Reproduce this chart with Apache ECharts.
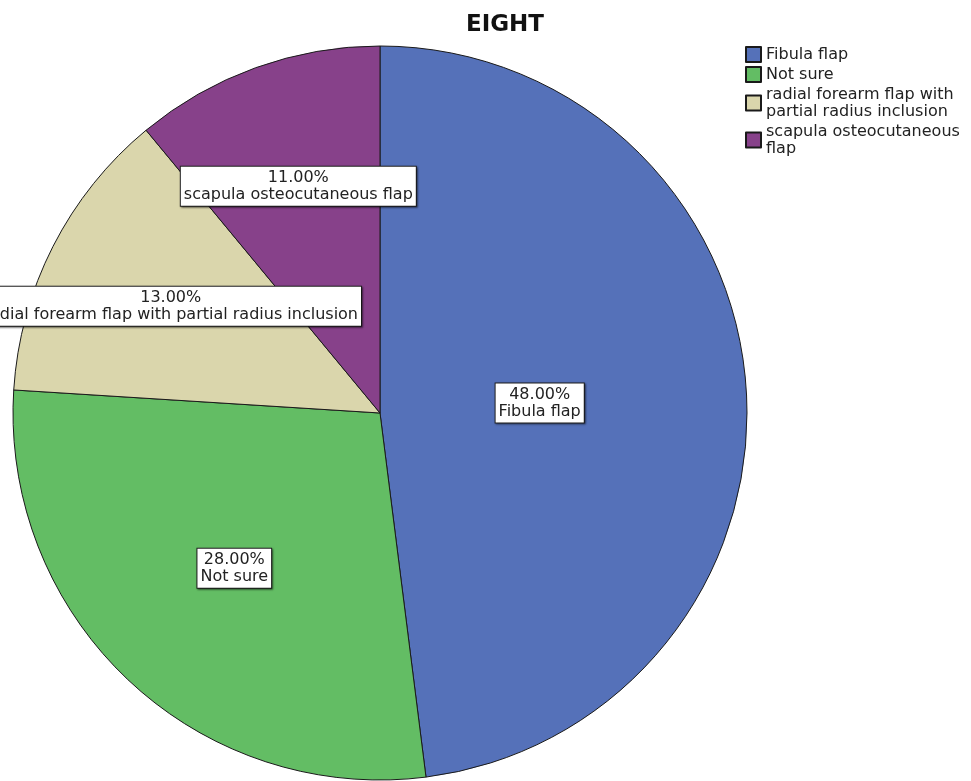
<!DOCTYPE html>
<html>
<head>
<meta charset="utf-8">
<style>
  html, body { margin: 0; padding: 0; background: #fff; }
  #chart { width: 971px; height: 781px; }
</style>
<script src="https://cdn.jsdelivr.net/npm/echarts@6/dist/echarts.min.js"></script>
</head>
<body>
<div id="chart"></div>
<script>
// Response categories and their shares (percent)
const categories = [
  'Fibula flap',
  'Not sure',
  'radial forearm flap with partial radius inclusion',
  'scapula osteocutaneous flap'
];
const percents = [48, 28, 13, 11];
// Legend text with manual line breaks
const legendLabels = [
  'Fibula flap',
  'Not sure',
  'radial forearm flap with\npartial radius inclusion',
  'scapula osteocutaneous\nflap'
];

// Styling
const colors = ['#5571B9', '#63BD64', '#DAD6AC', '#87418A'];
const labelRadiusFrac = [0.436, 0.58, 0.64, 0.657];
const CX = 380, CY = 413, R = 367;
const FONT = 'DejaVu Sans';

const total = percents.reduce((a, b) => a + b, 0);
// mid-angle of each slice, clockwise from 12 o'clock
const midAngles = [];
let acc = 0;
percents.forEach(v => {
  midAngles.push(((acc + v / 2) / total) * 2 * Math.PI);
  acc += v;
});

const chart = echarts.init(document.getElementById('chart'), null, { renderer: 'canvas' });

chart.setOption({
  animation: false,
  backgroundColor: '#ffffff',
  title: {
    text: 'EIGHT',
    left: 500,
    top: 9,
    textAlign: 'center',
    textStyle: { fontFamily: FONT, fontWeight: 'bold', fontSize: 23, color: '#111' }
  },
  legend: {
    orient: 'vertical',
    left: 745,
    top: 46,
    padding: 0,
    icon: 'rect',
    itemWidth: 15,
    itemHeight: 15,
    itemGap: 3,
    selectedMode: false,
    formatter: name => legendLabels[categories.indexOf(name)],
    textStyle: { fontFamily: FONT, fontSize: 16, color: '#222', lineHeight: 17 }
  },
  series: [{
    type: 'pie',
    center: [CX, CY],
    radius: [0, R],
    startAngle: 90,
    clockwise: true,
    avoidLabelOverlap: false,
    emphasis: { disabled: true },
    itemStyle: { borderColor: '#1a1a1a', borderWidth: 1 },
    data: categories.map((c, i) => ({
      name: c,
      value: percents[i],
      itemStyle: { color: colors[i] }
    })),
    label: {
      show: true,
      position: 'inside',
      formatter: p => p.value.toFixed(2) + '%\n' + p.name,
      fontFamily: FONT,
      fontSize: 16,
      lineHeight: 17,
      color: '#222',
      align: 'center',
      backgroundColor: '#ffffff',
      borderColor: '#222',
      borderWidth: 1,
      padding: [3, 3, 2, 3],
      shadowColor: 'rgba(0,0,0,0.45)',
      shadowOffsetX: 1,
      shadowOffsetY: 1,
      shadowBlur: 2
    },
    labelLine: { show: false },
    labelLayout: params => {
      const i = params.dataIndex;
      const a = midAngles[i];
      const r = R * labelRadiusFrac[i];
      return {
        x: CX + r * Math.sin(a),
        y: CY - r * Math.cos(a),
        align: 'center',
        verticalAlign: 'middle'
      };
    }
  }]
});
</script>
</body>
</html>
